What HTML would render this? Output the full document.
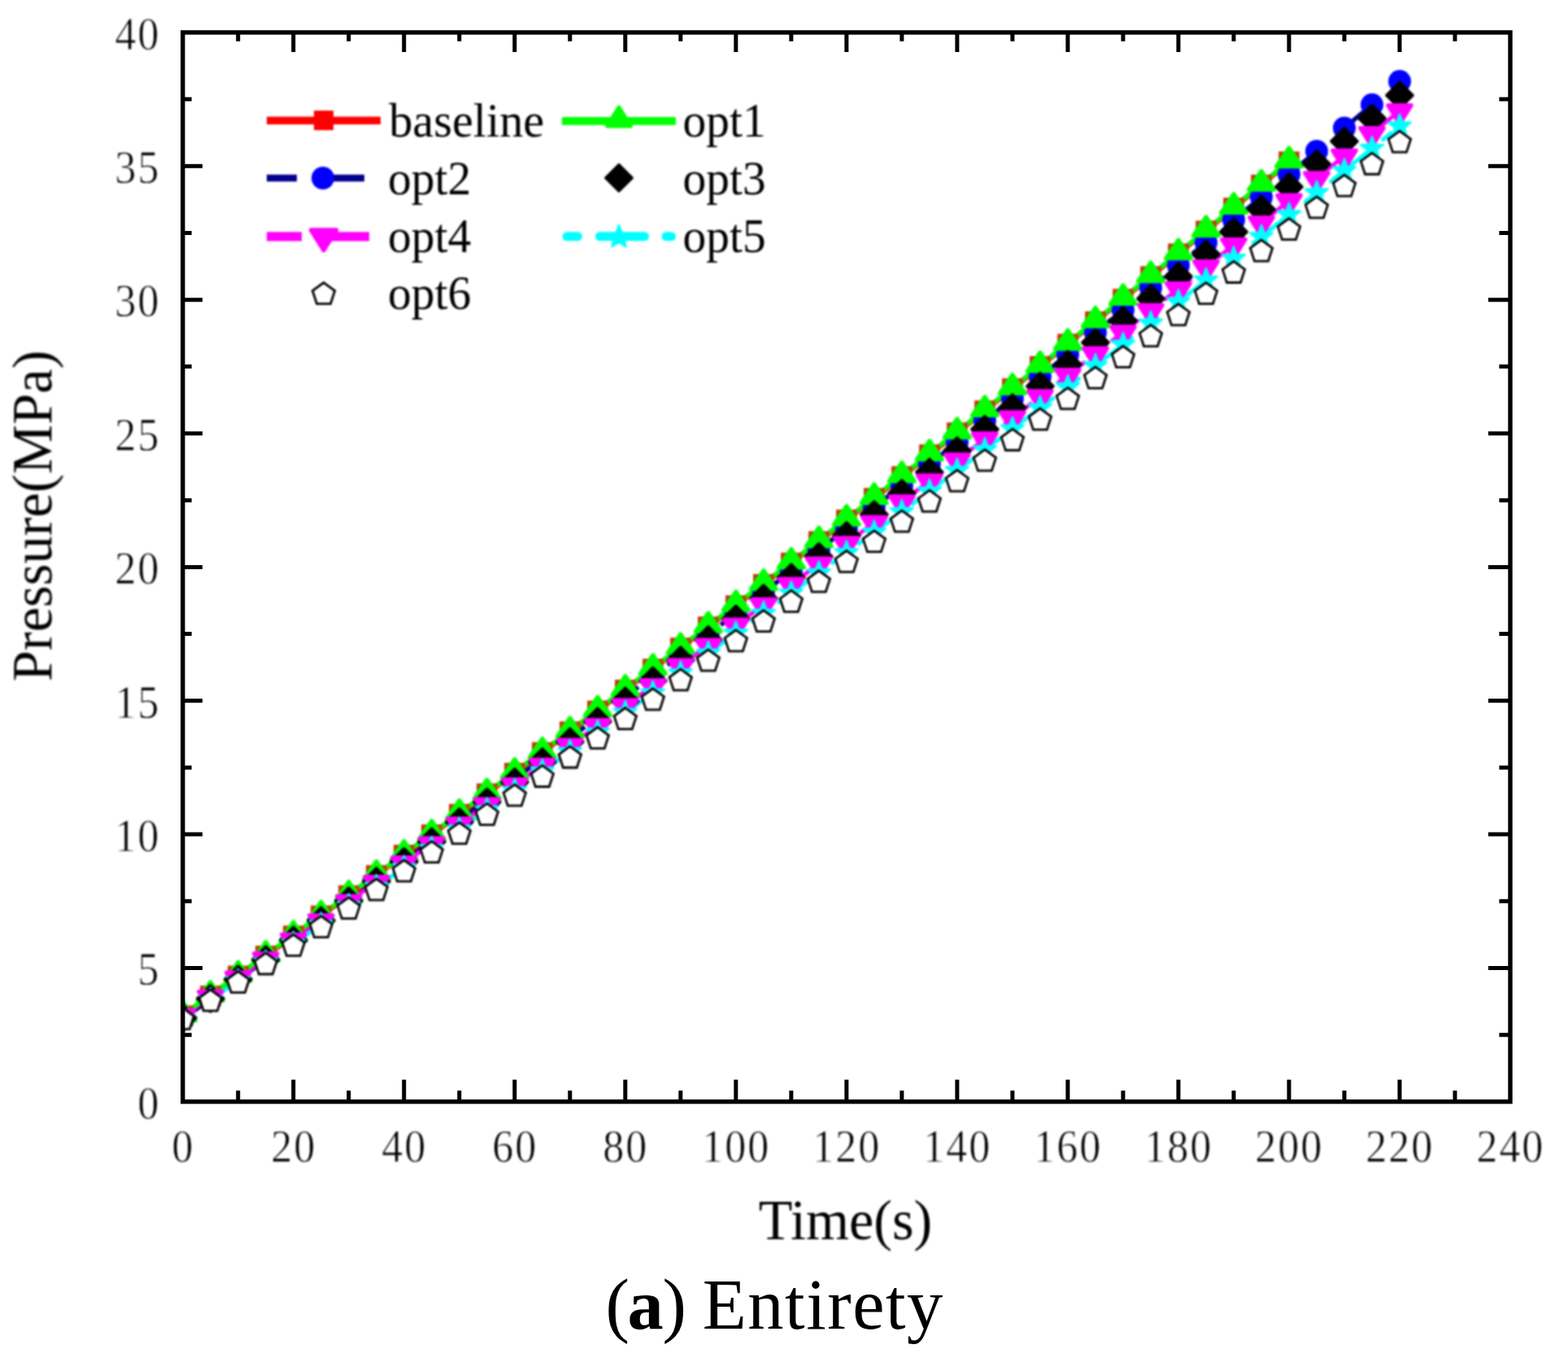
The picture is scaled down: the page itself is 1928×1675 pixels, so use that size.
<!DOCTYPE html>
<html lang="en"><head><meta charset="utf-8"><title>Pressure vs Time - (a) Entirety</title>
<style>
html,body{margin:0;padding:0;background:#ffffff;}
body{width:1928px;height:1675px;overflow:hidden;}
svg{display:block;}
.tick{font-family:"Liberation Serif","DejaVu Serif",serif;font-size:56px;fill:#000;stroke:#fff;stroke-width:0.8px;}
.leg{font-family:"Liberation Serif","DejaVu Serif",serif;font-size:59.5px;fill:#000;}
.ttl{font-family:"Liberation Serif","DejaVu Serif",serif;font-size:70.5px;fill:#000;}
.cap{font-family:"Liberation Serif","DejaVu Serif",serif;font-size:88.5px;fill:#000;}
</style></head><body>
<svg width="1928" height="1675" viewBox="0 0 1928 1675" role="img" aria-label="Pressure versus time chart">
<rect x="0" y="0" width="1928" height="1675" fill="#ffffff"/>
<defs><filter id="soft" x="0" y="0" width="1928" height="1675" filterUnits="userSpaceOnUse" color-interpolation-filters="sRGB"><feGaussianBlur stdDeviation="0.9"/></filter><filter id="soft2" x="0" y="0" width="1928" height="1675" filterUnits="userSpaceOnUse" color-interpolation-filters="sRGB"><feGaussianBlur stdDeviation="0.5"/></filter><clipPath id="plotclip"><rect x="224.75" y="39.9" width="1632.25" height="1314.95"/></clipPath></defs>
<g id="chart">
<g id="data-wrap" filter="url(#soft)">
<g id="data" clip-path="url(#plotclip)">
<g id="lines" fill="none">
<polyline id="line-opt2" points="224.75,1252.99 258.76,1228.83 292.76,1204.6 326.77,1180.29 360.77,1155.91 394.78,1131.46 428.78,1106.93 462.79,1082.31 496.79,1057.62 530.8,1032.84 564.8,1007.98 598.81,983.03 632.81,957.99 666.82,932.87 700.82,907.65 734.83,882.34 768.83,856.93 802.84,831.43 836.84,805.82 870.85,780.12 904.85,754.32 938.86,728.41 972.86,702.4 1006.87,676.28 1040.88,650.05 1074.88,623.71 1108.89,597.26 1142.89,570.7 1176.9,544.02 1210.9,517.22 1244.91,490.31 1278.91,463.27 1312.92,436.11 1346.92,408.83 1380.93,381.42 1414.93,353.89 1448.94,326.23 1482.94,298.43 1516.95,270.51 1550.95,242.45 1584.96,214.25 1618.96,185.92 1652.97,157.44 1686.97,128.83 1720.98,100.07" stroke="#00008c" stroke-width="5.5" stroke-dasharray="37 45" stroke-linecap="butt"/>
<polyline id="line-baseline" points="224.75,1249.37 258.76,1224.92 292.76,1200.41 326.77,1175.81 360.77,1151.15 394.78,1126.4 428.78,1101.58 462.79,1076.68 496.79,1051.7 530.8,1026.64 564.8,1001.49 598.81,976.25 632.81,950.93 666.82,925.51 700.82,900 734.83,874.4 768.83,848.71 802.84,822.92 836.84,797.03 870.85,771.04 904.85,744.95 938.86,718.75 972.86,692.45 1006.87,666.05 1040.88,639.53 1074.88,612.9 1108.89,586.17 1142.89,559.31 1176.9,532.35 1210.9,505.26 1244.91,478.06 1278.91,450.74 1312.92,423.29 1346.92,395.72 1380.93,368.03 1414.93,340.21 1448.94,312.25 1482.94,284.17 1516.95,255.96 1550.95,227.61 1584.96,199.13" stroke="#ff0000" stroke-width="6" stroke-linecap="butt"/>
<polyline id="line-opt4" points="224.75,1249.37 258.76,1226.12 292.76,1202.79 326.77,1179.39 360.77,1155.91 394.78,1132.36 428.78,1108.73 462.79,1085.02 496.79,1061.23 530.8,1037.36 564.8,1013.4 598.81,989.36 632.81,965.23 666.82,941 700.82,916.69 734.83,892.28 768.83,867.78 802.84,843.18 836.84,818.48 870.85,793.68 904.85,768.78 938.86,743.78 972.86,718.67 1006.87,693.45 1040.88,668.13 1074.88,642.7 1108.89,617.15 1142.89,591.49 1176.9,565.71 1210.9,539.82 1244.91,513.81 1278.91,487.68 1312.92,461.43 1346.92,435.05 1380.93,408.54 1414.93,381.91 1448.94,355.15 1482.94,328.26 1516.95,301.24 1550.95,274.09 1584.96,246.79 1618.96,219.36 1652.97,191.8 1686.97,164.09 1720.98,136.23" stroke="#ff00ff" stroke-width="5" stroke-dasharray="43 40" stroke-linecap="butt"/>
<polyline id="line-opt5" points="224.75,1252.33 258.76,1229.44 292.76,1206.47 326.77,1183.43 360.77,1160.32 394.78,1137.13 428.78,1113.86 462.79,1090.51 496.79,1067.09 530.8,1043.57 564.8,1019.98 598.81,996.29 632.81,972.52 666.82,948.66 700.82,924.71 734.83,900.66 768.83,876.52 802.84,852.28 836.84,827.95 870.85,803.51 904.85,778.97 938.86,754.33 972.86,729.58 1006.87,704.73 1040.88,679.77 1074.88,654.69 1108.89,629.51 1142.89,604.21 1176.9,578.8 1210.9,553.27 1244.91,527.62 1278.91,501.85 1312.92,475.96 1346.92,449.94 1380.93,423.8 1414.93,397.53 1448.94,371.13 1482.94,344.6 1516.95,317.94 1550.95,291.15 1584.96,264.22 1618.96,237.15 1652.97,209.94 1686.97,182.59 1720.98,155.1" stroke="#00ffff" stroke-width="5" stroke-dasharray="12 28 54 28" stroke-linecap="round"/>
<polyline id="line-opt1" points="224.75,1248.06 258.76,1223.61 292.76,1199.09 326.77,1174.5 360.77,1149.83 394.78,1125.09 428.78,1100.27 462.79,1075.37 496.79,1050.39 530.8,1025.32 564.8,1000.17 598.81,974.93 632.81,949.61 666.82,924.2 700.82,898.69 734.83,873.09 768.83,847.4 802.84,821.6 836.84,795.71 870.85,769.72 904.85,743.63 938.86,717.44 972.86,691.14 1006.87,664.73 1040.88,638.22 1074.88,611.59 1108.89,584.85 1142.89,558 1176.9,531.03 1210.9,503.95 1244.91,476.75 1278.91,449.42 1312.92,421.98 1346.92,394.41 1380.93,366.71 1414.93,338.89 1448.94,310.94 1482.94,282.86 1516.95,254.64 1550.95,226.3 1584.96,197.81" stroke="#00ff00" stroke-width="5.6" stroke-linecap="butt"/>
</g>
<g id="pts-baseline">
<rect x="211.95" y="1236.57" width="25.6" height="25.6" fill="#c23a08"/>
<rect x="245.96" y="1212.12" width="25.6" height="25.6" fill="#c23a08"/>
<rect x="279.96" y="1187.61" width="25.6" height="25.6" fill="#c23a08"/>
<rect x="313.97" y="1163.01" width="25.6" height="25.6" fill="#c23a08"/>
<rect x="347.97" y="1138.35" width="25.6" height="25.6" fill="#c23a08"/>
<rect x="381.98" y="1113.6" width="25.6" height="25.6" fill="#c23a08"/>
<rect x="415.98" y="1088.78" width="25.6" height="25.6" fill="#c23a08"/>
<rect x="449.99" y="1063.88" width="25.6" height="25.6" fill="#c23a08"/>
<rect x="483.99" y="1038.9" width="25.6" height="25.6" fill="#c23a08"/>
<rect x="518" y="1013.84" width="25.6" height="25.6" fill="#c23a08"/>
<rect x="552" y="988.69" width="25.6" height="25.6" fill="#c23a08"/>
<rect x="586.01" y="963.45" width="25.6" height="25.6" fill="#c23a08"/>
<rect x="620.01" y="938.13" width="25.6" height="25.6" fill="#c23a08"/>
<rect x="654.02" y="912.71" width="25.6" height="25.6" fill="#c23a08"/>
<rect x="688.02" y="887.2" width="25.6" height="25.6" fill="#c23a08"/>
<rect x="722.03" y="861.6" width="25.6" height="25.6" fill="#c23a08"/>
<rect x="756.03" y="835.91" width="25.6" height="25.6" fill="#c23a08"/>
<rect x="790.04" y="810.12" width="25.6" height="25.6" fill="#c23a08"/>
<rect x="824.04" y="784.23" width="25.6" height="25.6" fill="#c23a08"/>
<rect x="858.05" y="758.24" width="25.6" height="25.6" fill="#c23a08"/>
<rect x="892.05" y="732.15" width="25.6" height="25.6" fill="#c23a08"/>
<rect x="926.06" y="705.95" width="25.6" height="25.6" fill="#c23a08"/>
<rect x="960.06" y="679.65" width="25.6" height="25.6" fill="#c23a08"/>
<rect x="994.07" y="653.25" width="25.6" height="25.6" fill="#c23a08"/>
<rect x="1028.08" y="626.73" width="25.6" height="25.6" fill="#c23a08"/>
<rect x="1062.08" y="600.1" width="25.6" height="25.6" fill="#c23a08"/>
<rect x="1096.09" y="573.37" width="25.6" height="25.6" fill="#c23a08"/>
<rect x="1130.09" y="546.51" width="25.6" height="25.6" fill="#c23a08"/>
<rect x="1164.1" y="519.55" width="25.6" height="25.6" fill="#c23a08"/>
<rect x="1198.1" y="492.46" width="25.6" height="25.6" fill="#c23a08"/>
<rect x="1232.11" y="465.26" width="25.6" height="25.6" fill="#c23a08"/>
<rect x="1266.11" y="437.94" width="25.6" height="25.6" fill="#c23a08"/>
<rect x="1300.12" y="410.49" width="25.6" height="25.6" fill="#c23a08"/>
<rect x="1334.12" y="382.92" width="25.6" height="25.6" fill="#c23a08"/>
<rect x="1368.13" y="355.23" width="25.6" height="25.6" fill="#c23a08"/>
<rect x="1402.13" y="327.41" width="25.6" height="25.6" fill="#c23a08"/>
<rect x="1436.14" y="299.45" width="25.6" height="25.6" fill="#c23a08"/>
<rect x="1470.14" y="271.37" width="25.6" height="25.6" fill="#c23a08"/>
<rect x="1504.15" y="243.16" width="25.6" height="25.6" fill="#c23a08"/>
<rect x="1538.15" y="214.81" width="25.6" height="25.6" fill="#c23a08"/>
<rect x="1572.16" y="186.33" width="25.6" height="25.6" fill="#c23a08"/>
</g>
<g id="pts-opt2">
<circle cx="224.75" cy="1252.99" r="14" fill="#0000ff"/>
<circle cx="258.76" cy="1228.83" r="14" fill="#0000ff"/>
<circle cx="292.76" cy="1204.6" r="14" fill="#0000ff"/>
<circle cx="326.77" cy="1180.29" r="14" fill="#0000ff"/>
<circle cx="360.77" cy="1155.91" r="14" fill="#0000ff"/>
<circle cx="394.78" cy="1131.46" r="14" fill="#0000ff"/>
<circle cx="428.78" cy="1106.93" r="14" fill="#0000ff"/>
<circle cx="462.79" cy="1082.31" r="14" fill="#0000ff"/>
<circle cx="496.79" cy="1057.62" r="14" fill="#0000ff"/>
<circle cx="530.8" cy="1032.84" r="14" fill="#0000ff"/>
<circle cx="564.8" cy="1007.98" r="14" fill="#0000ff"/>
<circle cx="598.81" cy="983.03" r="14" fill="#0000ff"/>
<circle cx="632.81" cy="957.99" r="14" fill="#0000ff"/>
<circle cx="666.82" cy="932.87" r="14" fill="#0000ff"/>
<circle cx="700.82" cy="907.65" r="14" fill="#0000ff"/>
<circle cx="734.83" cy="882.34" r="14" fill="#0000ff"/>
<circle cx="768.83" cy="856.93" r="14" fill="#0000ff"/>
<circle cx="802.84" cy="831.43" r="14" fill="#0000ff"/>
<circle cx="836.84" cy="805.82" r="14" fill="#0000ff"/>
<circle cx="870.85" cy="780.12" r="14" fill="#0000ff"/>
<circle cx="904.85" cy="754.32" r="14" fill="#0000ff"/>
<circle cx="938.86" cy="728.41" r="14" fill="#0000ff"/>
<circle cx="972.86" cy="702.4" r="14" fill="#0000ff"/>
<circle cx="1006.87" cy="676.28" r="14" fill="#0000ff"/>
<circle cx="1040.88" cy="650.05" r="14" fill="#0000ff"/>
<circle cx="1074.88" cy="623.71" r="14" fill="#0000ff"/>
<circle cx="1108.89" cy="597.26" r="14" fill="#0000ff"/>
<circle cx="1142.89" cy="570.7" r="14" fill="#0000ff"/>
<circle cx="1176.9" cy="544.02" r="14" fill="#0000ff"/>
<circle cx="1210.9" cy="517.22" r="14" fill="#0000ff"/>
<circle cx="1244.91" cy="490.31" r="14" fill="#0000ff"/>
<circle cx="1278.91" cy="463.27" r="14" fill="#0000ff"/>
<circle cx="1312.92" cy="436.11" r="14" fill="#0000ff"/>
<circle cx="1346.92" cy="408.83" r="14" fill="#0000ff"/>
<circle cx="1380.93" cy="381.42" r="14" fill="#0000ff"/>
<circle cx="1414.93" cy="353.89" r="14" fill="#0000ff"/>
<circle cx="1448.94" cy="326.23" r="14" fill="#0000ff"/>
<circle cx="1482.94" cy="298.43" r="14" fill="#0000ff"/>
<circle cx="1516.95" cy="270.51" r="14" fill="#0000ff"/>
<circle cx="1550.95" cy="242.45" r="14" fill="#0000ff"/>
<circle cx="1584.96" cy="214.25" r="14" fill="#0000ff"/>
<circle cx="1618.96" cy="185.92" r="14" fill="#0000ff"/>
<circle cx="1652.97" cy="157.44" r="14" fill="#0000ff"/>
<circle cx="1686.97" cy="128.83" r="14" fill="#0000ff"/>
<circle cx="1720.98" cy="100.07" r="14" fill="#0000ff"/>
</g>
<g id="pts-opt1">
<polygon points="224.75,1232.16 209.25,1254.96 240.25,1254.96" fill="#00ff00" stroke="#00ff00" stroke-width="5" stroke-linejoin="round"/>
<polygon points="258.76,1207.71 243.26,1230.51 274.26,1230.51" fill="#00ff00" stroke="#00ff00" stroke-width="5" stroke-linejoin="round"/>
<polygon points="292.76,1183.19 277.26,1205.99 308.26,1205.99" fill="#00ff00" stroke="#00ff00" stroke-width="5" stroke-linejoin="round"/>
<polygon points="326.77,1158.6 311.27,1181.4 342.27,1181.4" fill="#00ff00" stroke="#00ff00" stroke-width="5" stroke-linejoin="round"/>
<polygon points="360.77,1133.93 345.27,1156.73 376.27,1156.73" fill="#00ff00" stroke="#00ff00" stroke-width="5" stroke-linejoin="round"/>
<polygon points="394.78,1109.19 379.28,1131.99 410.28,1131.99" fill="#00ff00" stroke="#00ff00" stroke-width="5" stroke-linejoin="round"/>
<polygon points="428.78,1084.37 413.28,1107.17 444.28,1107.17" fill="#00ff00" stroke="#00ff00" stroke-width="5" stroke-linejoin="round"/>
<polygon points="462.79,1059.47 447.29,1082.27 478.29,1082.27" fill="#00ff00" stroke="#00ff00" stroke-width="5" stroke-linejoin="round"/>
<polygon points="496.79,1034.49 481.29,1057.29 512.29,1057.29" fill="#00ff00" stroke="#00ff00" stroke-width="5" stroke-linejoin="round"/>
<polygon points="530.8,1009.42 515.3,1032.22 546.3,1032.22" fill="#00ff00" stroke="#00ff00" stroke-width="5" stroke-linejoin="round"/>
<polygon points="564.8,984.27 549.3,1007.07 580.3,1007.07" fill="#00ff00" stroke="#00ff00" stroke-width="5" stroke-linejoin="round"/>
<polygon points="598.81,959.03 583.31,981.83 614.31,981.83" fill="#00ff00" stroke="#00ff00" stroke-width="5" stroke-linejoin="round"/>
<polygon points="632.81,933.71 617.31,956.51 648.31,956.51" fill="#00ff00" stroke="#00ff00" stroke-width="5" stroke-linejoin="round"/>
<polygon points="666.82,908.3 651.32,931.1 682.32,931.1" fill="#00ff00" stroke="#00ff00" stroke-width="5" stroke-linejoin="round"/>
<polygon points="700.82,882.79 685.32,905.59 716.32,905.59" fill="#00ff00" stroke="#00ff00" stroke-width="5" stroke-linejoin="round"/>
<polygon points="734.83,857.19 719.33,879.99 750.33,879.99" fill="#00ff00" stroke="#00ff00" stroke-width="5" stroke-linejoin="round"/>
<polygon points="768.83,831.5 753.33,854.3 784.33,854.3" fill="#00ff00" stroke="#00ff00" stroke-width="5" stroke-linejoin="round"/>
<polygon points="802.84,805.7 787.34,828.5 818.34,828.5" fill="#00ff00" stroke="#00ff00" stroke-width="5" stroke-linejoin="round"/>
<polygon points="836.84,779.81 821.34,802.61 852.34,802.61" fill="#00ff00" stroke="#00ff00" stroke-width="5" stroke-linejoin="round"/>
<polygon points="870.85,753.82 855.35,776.62 886.35,776.62" fill="#00ff00" stroke="#00ff00" stroke-width="5" stroke-linejoin="round"/>
<polygon points="904.85,727.73 889.35,750.53 920.35,750.53" fill="#00ff00" stroke="#00ff00" stroke-width="5" stroke-linejoin="round"/>
<polygon points="938.86,701.54 923.36,724.34 954.36,724.34" fill="#00ff00" stroke="#00ff00" stroke-width="5" stroke-linejoin="round"/>
<polygon points="972.86,675.24 957.36,698.04 988.36,698.04" fill="#00ff00" stroke="#00ff00" stroke-width="5" stroke-linejoin="round"/>
<polygon points="1006.87,648.83 991.37,671.63 1022.37,671.63" fill="#00ff00" stroke="#00ff00" stroke-width="5" stroke-linejoin="round"/>
<polygon points="1040.88,622.32 1025.38,645.12 1056.38,645.12" fill="#00ff00" stroke="#00ff00" stroke-width="5" stroke-linejoin="round"/>
<polygon points="1074.88,595.69 1059.38,618.49 1090.38,618.49" fill="#00ff00" stroke="#00ff00" stroke-width="5" stroke-linejoin="round"/>
<polygon points="1108.89,568.95 1093.39,591.75 1124.39,591.75" fill="#00ff00" stroke="#00ff00" stroke-width="5" stroke-linejoin="round"/>
<polygon points="1142.89,542.1 1127.39,564.9 1158.39,564.9" fill="#00ff00" stroke="#00ff00" stroke-width="5" stroke-linejoin="round"/>
<polygon points="1176.9,515.13 1161.4,537.93 1192.4,537.93" fill="#00ff00" stroke="#00ff00" stroke-width="5" stroke-linejoin="round"/>
<polygon points="1210.9,488.05 1195.4,510.85 1226.4,510.85" fill="#00ff00" stroke="#00ff00" stroke-width="5" stroke-linejoin="round"/>
<polygon points="1244.91,460.85 1229.41,483.65 1260.41,483.65" fill="#00ff00" stroke="#00ff00" stroke-width="5" stroke-linejoin="round"/>
<polygon points="1278.91,433.52 1263.41,456.32 1294.41,456.32" fill="#00ff00" stroke="#00ff00" stroke-width="5" stroke-linejoin="round"/>
<polygon points="1312.92,406.08 1297.42,428.88 1328.42,428.88" fill="#00ff00" stroke="#00ff00" stroke-width="5" stroke-linejoin="round"/>
<polygon points="1346.92,378.51 1331.42,401.31 1362.42,401.31" fill="#00ff00" stroke="#00ff00" stroke-width="5" stroke-linejoin="round"/>
<polygon points="1380.93,350.81 1365.43,373.61 1396.43,373.61" fill="#00ff00" stroke="#00ff00" stroke-width="5" stroke-linejoin="round"/>
<polygon points="1414.93,322.99 1399.43,345.79 1430.43,345.79" fill="#00ff00" stroke="#00ff00" stroke-width="5" stroke-linejoin="round"/>
<polygon points="1448.94,295.04 1433.44,317.84 1464.44,317.84" fill="#00ff00" stroke="#00ff00" stroke-width="5" stroke-linejoin="round"/>
<polygon points="1482.94,266.96 1467.44,289.76 1498.44,289.76" fill="#00ff00" stroke="#00ff00" stroke-width="5" stroke-linejoin="round"/>
<polygon points="1516.95,238.74 1501.45,261.54 1532.45,261.54" fill="#00ff00" stroke="#00ff00" stroke-width="5" stroke-linejoin="round"/>
<polygon points="1550.95,210.4 1535.45,233.2 1566.45,233.2" fill="#00ff00" stroke="#00ff00" stroke-width="5" stroke-linejoin="round"/>
<polygon points="1584.96,181.91 1569.46,204.71 1600.46,204.71" fill="#00ff00" stroke="#00ff00" stroke-width="5" stroke-linejoin="round"/>
</g>
<g id="pts-opt3">
<polygon points="224.75,1235.63 240.79,1251.67 224.75,1267.71 208.71,1251.67" fill="#000000" stroke="#000000" stroke-width="3.6" stroke-linejoin="round"/>
<polygon points="258.76,1211.89 274.8,1227.93 258.76,1243.97 242.72,1227.93" fill="#000000" stroke="#000000" stroke-width="3.6" stroke-linejoin="round"/>
<polygon points="292.76,1188.08 308.8,1204.12 292.76,1220.16 276.72,1204.12" fill="#000000" stroke="#000000" stroke-width="3.6" stroke-linejoin="round"/>
<polygon points="326.77,1164.19 342.81,1180.23 326.77,1196.27 310.73,1180.23" fill="#000000" stroke="#000000" stroke-width="3.6" stroke-linejoin="round"/>
<polygon points="360.77,1140.24 376.81,1156.28 360.77,1172.32 344.73,1156.28" fill="#000000" stroke="#000000" stroke-width="3.6" stroke-linejoin="round"/>
<polygon points="394.78,1116.2 410.82,1132.24 394.78,1148.28 378.74,1132.24" fill="#000000" stroke="#000000" stroke-width="3.6" stroke-linejoin="round"/>
<polygon points="428.78,1092.09 444.82,1108.13 428.78,1124.17 412.74,1108.13" fill="#000000" stroke="#000000" stroke-width="3.6" stroke-linejoin="round"/>
<polygon points="462.79,1067.89 478.83,1083.93 462.79,1099.97 446.75,1083.93" fill="#000000" stroke="#000000" stroke-width="3.6" stroke-linejoin="round"/>
<polygon points="496.79,1043.62 512.83,1059.66 496.79,1075.7 480.75,1059.66" fill="#000000" stroke="#000000" stroke-width="3.6" stroke-linejoin="round"/>
<polygon points="530.8,1019.26 546.84,1035.3 530.8,1051.34 514.76,1035.3" fill="#000000" stroke="#000000" stroke-width="3.6" stroke-linejoin="round"/>
<polygon points="564.8,994.82 580.84,1010.86 564.8,1026.9 548.76,1010.86" fill="#000000" stroke="#000000" stroke-width="3.6" stroke-linejoin="round"/>
<polygon points="598.81,970.29 614.85,986.33 598.81,1002.37 582.77,986.33" fill="#000000" stroke="#000000" stroke-width="3.6" stroke-linejoin="round"/>
<polygon points="632.81,945.67 648.85,961.71 632.81,977.75 616.77,961.71" fill="#000000" stroke="#000000" stroke-width="3.6" stroke-linejoin="round"/>
<polygon points="666.82,920.96 682.86,937 666.82,953.04 650.78,937" fill="#000000" stroke="#000000" stroke-width="3.6" stroke-linejoin="round"/>
<polygon points="700.82,896.16 716.86,912.2 700.82,928.24 684.78,912.2" fill="#000000" stroke="#000000" stroke-width="3.6" stroke-linejoin="round"/>
<polygon points="734.83,871.27 750.87,887.31 734.83,903.35 718.79,887.31" fill="#000000" stroke="#000000" stroke-width="3.6" stroke-linejoin="round"/>
<polygon points="768.83,846.28 784.87,862.32 768.83,878.36 752.79,862.32" fill="#000000" stroke="#000000" stroke-width="3.6" stroke-linejoin="round"/>
<polygon points="802.84,821.2 818.88,837.24 802.84,853.28 786.8,837.24" fill="#000000" stroke="#000000" stroke-width="3.6" stroke-linejoin="round"/>
<polygon points="836.84,796.01 852.88,812.05 836.84,828.09 820.8,812.05" fill="#000000" stroke="#000000" stroke-width="3.6" stroke-linejoin="round"/>
<polygon points="870.85,770.73 886.89,786.77 870.85,802.81 854.81,786.77" fill="#000000" stroke="#000000" stroke-width="3.6" stroke-linejoin="round"/>
<polygon points="904.85,745.34 920.89,761.38 904.85,777.42 888.81,761.38" fill="#000000" stroke="#000000" stroke-width="3.6" stroke-linejoin="round"/>
<polygon points="938.86,719.86 954.9,735.9 938.86,751.94 922.82,735.9" fill="#000000" stroke="#000000" stroke-width="3.6" stroke-linejoin="round"/>
<polygon points="972.86,694.26 988.9,710.3 972.86,726.34 956.82,710.3" fill="#000000" stroke="#000000" stroke-width="3.6" stroke-linejoin="round"/>
<polygon points="1006.87,668.56 1022.91,684.6 1006.87,700.64 990.83,684.6" fill="#000000" stroke="#000000" stroke-width="3.6" stroke-linejoin="round"/>
<polygon points="1040.88,642.75 1056.91,658.79 1040.88,674.83 1024.84,658.79" fill="#000000" stroke="#000000" stroke-width="3.6" stroke-linejoin="round"/>
<polygon points="1074.88,616.83 1090.92,632.87 1074.88,648.91 1058.84,632.87" fill="#000000" stroke="#000000" stroke-width="3.6" stroke-linejoin="round"/>
<polygon points="1108.89,590.8 1124.93,606.84 1108.89,622.88 1092.85,606.84" fill="#000000" stroke="#000000" stroke-width="3.6" stroke-linejoin="round"/>
<polygon points="1142.89,564.66 1158.93,580.7 1142.89,596.74 1126.85,580.7" fill="#000000" stroke="#000000" stroke-width="3.6" stroke-linejoin="round"/>
<polygon points="1176.9,538.4 1192.94,554.44 1176.9,570.48 1160.86,554.44" fill="#000000" stroke="#000000" stroke-width="3.6" stroke-linejoin="round"/>
<polygon points="1210.9,512.02 1226.94,528.06 1210.9,544.1 1194.86,528.06" fill="#000000" stroke="#000000" stroke-width="3.6" stroke-linejoin="round"/>
<polygon points="1244.91,485.53 1260.95,501.57 1244.91,517.61 1228.87,501.57" fill="#000000" stroke="#000000" stroke-width="3.6" stroke-linejoin="round"/>
<polygon points="1278.91,458.91 1294.95,474.95 1278.91,490.99 1262.87,474.95" fill="#000000" stroke="#000000" stroke-width="3.6" stroke-linejoin="round"/>
<polygon points="1312.92,432.17 1328.96,448.21 1312.92,464.25 1296.88,448.21" fill="#000000" stroke="#000000" stroke-width="3.6" stroke-linejoin="round"/>
<polygon points="1346.92,405.31 1362.96,421.35 1346.92,437.39 1330.88,421.35" fill="#000000" stroke="#000000" stroke-width="3.6" stroke-linejoin="round"/>
<polygon points="1380.93,378.32 1396.97,394.36 1380.93,410.4 1364.89,394.36" fill="#000000" stroke="#000000" stroke-width="3.6" stroke-linejoin="round"/>
<polygon points="1414.93,351.2 1430.97,367.24 1414.93,383.28 1398.89,367.24" fill="#000000" stroke="#000000" stroke-width="3.6" stroke-linejoin="round"/>
<polygon points="1448.94,323.96 1464.98,340 1448.94,356.04 1432.9,340" fill="#000000" stroke="#000000" stroke-width="3.6" stroke-linejoin="round"/>
<polygon points="1482.94,296.59 1498.98,312.63 1482.94,328.67 1466.9,312.63" fill="#000000" stroke="#000000" stroke-width="3.6" stroke-linejoin="round"/>
<polygon points="1516.95,269.08 1532.99,285.12 1516.95,301.16 1500.91,285.12" fill="#000000" stroke="#000000" stroke-width="3.6" stroke-linejoin="round"/>
<polygon points="1550.95,241.44 1566.99,257.48 1550.95,273.52 1534.91,257.48" fill="#000000" stroke="#000000" stroke-width="3.6" stroke-linejoin="round"/>
<polygon points="1584.96,213.66 1601,229.7 1584.96,245.74 1568.92,229.7" fill="#000000" stroke="#000000" stroke-width="3.6" stroke-linejoin="round"/>
<polygon points="1618.96,185.75 1635,201.79 1618.96,217.83 1602.92,201.79" fill="#000000" stroke="#000000" stroke-width="3.6" stroke-linejoin="round"/>
<polygon points="1652.97,157.69 1669.01,173.73 1652.97,189.77 1636.93,173.73" fill="#000000" stroke="#000000" stroke-width="3.6" stroke-linejoin="round"/>
<polygon points="1686.97,129.5 1703.01,145.54 1686.97,161.58 1670.93,145.54" fill="#000000" stroke="#000000" stroke-width="3.6" stroke-linejoin="round"/>
<polygon points="1720.98,101.16 1737.02,117.2 1720.98,133.24 1704.94,117.2" fill="#000000" stroke="#000000" stroke-width="3.6" stroke-linejoin="round"/>
</g>
<g id="pts-opt4">
<polygon points="224.75,1265.47 210.45,1242.67 239.05,1242.67" fill="#ff00ff" stroke="#ff00ff" stroke-width="5" stroke-linejoin="round"/>
<polygon points="258.76,1242.22 244.46,1219.42 273.06,1219.42" fill="#ff00ff" stroke="#ff00ff" stroke-width="5" stroke-linejoin="round"/>
<polygon points="292.76,1218.89 278.46,1196.09 307.06,1196.09" fill="#ff00ff" stroke="#ff00ff" stroke-width="5" stroke-linejoin="round"/>
<polygon points="326.77,1195.49 312.47,1172.69 341.07,1172.69" fill="#ff00ff" stroke="#ff00ff" stroke-width="5" stroke-linejoin="round"/>
<polygon points="360.77,1172.01 346.47,1149.21 375.07,1149.21" fill="#ff00ff" stroke="#ff00ff" stroke-width="5" stroke-linejoin="round"/>
<polygon points="394.78,1148.46 380.48,1125.66 409.08,1125.66" fill="#ff00ff" stroke="#ff00ff" stroke-width="5" stroke-linejoin="round"/>
<polygon points="428.78,1124.83 414.48,1102.03 443.08,1102.03" fill="#ff00ff" stroke="#ff00ff" stroke-width="5" stroke-linejoin="round"/>
<polygon points="462.79,1101.12 448.49,1078.32 477.09,1078.32" fill="#ff00ff" stroke="#ff00ff" stroke-width="5" stroke-linejoin="round"/>
<polygon points="496.79,1077.33 482.49,1054.53 511.09,1054.53" fill="#ff00ff" stroke="#ff00ff" stroke-width="5" stroke-linejoin="round"/>
<polygon points="530.8,1053.46 516.5,1030.66 545.1,1030.66" fill="#ff00ff" stroke="#ff00ff" stroke-width="5" stroke-linejoin="round"/>
<polygon points="564.8,1029.5 550.5,1006.7 579.1,1006.7" fill="#ff00ff" stroke="#ff00ff" stroke-width="5" stroke-linejoin="round"/>
<polygon points="598.81,1005.46 584.51,982.66 613.11,982.66" fill="#ff00ff" stroke="#ff00ff" stroke-width="5" stroke-linejoin="round"/>
<polygon points="632.81,981.33 618.51,958.53 647.11,958.53" fill="#ff00ff" stroke="#ff00ff" stroke-width="5" stroke-linejoin="round"/>
<polygon points="666.82,957.1 652.52,934.3 681.12,934.3" fill="#ff00ff" stroke="#ff00ff" stroke-width="5" stroke-linejoin="round"/>
<polygon points="700.82,932.79 686.52,909.99 715.12,909.99" fill="#ff00ff" stroke="#ff00ff" stroke-width="5" stroke-linejoin="round"/>
<polygon points="734.83,908.38 720.53,885.58 749.13,885.58" fill="#ff00ff" stroke="#ff00ff" stroke-width="5" stroke-linejoin="round"/>
<polygon points="768.83,883.88 754.53,861.08 783.13,861.08" fill="#ff00ff" stroke="#ff00ff" stroke-width="5" stroke-linejoin="round"/>
<polygon points="802.84,859.28 788.54,836.48 817.14,836.48" fill="#ff00ff" stroke="#ff00ff" stroke-width="5" stroke-linejoin="round"/>
<polygon points="836.84,834.58 822.54,811.78 851.14,811.78" fill="#ff00ff" stroke="#ff00ff" stroke-width="5" stroke-linejoin="round"/>
<polygon points="870.85,809.78 856.55,786.98 885.15,786.98" fill="#ff00ff" stroke="#ff00ff" stroke-width="5" stroke-linejoin="round"/>
<polygon points="904.85,784.88 890.55,762.08 919.15,762.08" fill="#ff00ff" stroke="#ff00ff" stroke-width="5" stroke-linejoin="round"/>
<polygon points="938.86,759.88 924.56,737.08 953.16,737.08" fill="#ff00ff" stroke="#ff00ff" stroke-width="5" stroke-linejoin="round"/>
<polygon points="972.86,734.77 958.56,711.97 987.16,711.97" fill="#ff00ff" stroke="#ff00ff" stroke-width="5" stroke-linejoin="round"/>
<polygon points="1006.87,709.55 992.57,686.75 1021.17,686.75" fill="#ff00ff" stroke="#ff00ff" stroke-width="5" stroke-linejoin="round"/>
<polygon points="1040.88,684.23 1026.58,661.43 1055.17,661.43" fill="#ff00ff" stroke="#ff00ff" stroke-width="5" stroke-linejoin="round"/>
<polygon points="1074.88,658.8 1060.58,636 1089.18,636" fill="#ff00ff" stroke="#ff00ff" stroke-width="5" stroke-linejoin="round"/>
<polygon points="1108.89,633.25 1094.59,610.45 1123.19,610.45" fill="#ff00ff" stroke="#ff00ff" stroke-width="5" stroke-linejoin="round"/>
<polygon points="1142.89,607.59 1128.59,584.79 1157.19,584.79" fill="#ff00ff" stroke="#ff00ff" stroke-width="5" stroke-linejoin="round"/>
<polygon points="1176.9,581.81 1162.6,559.01 1191.2,559.01" fill="#ff00ff" stroke="#ff00ff" stroke-width="5" stroke-linejoin="round"/>
<polygon points="1210.9,555.92 1196.6,533.12 1225.2,533.12" fill="#ff00ff" stroke="#ff00ff" stroke-width="5" stroke-linejoin="round"/>
<polygon points="1244.91,529.91 1230.61,507.11 1259.21,507.11" fill="#ff00ff" stroke="#ff00ff" stroke-width="5" stroke-linejoin="round"/>
<polygon points="1278.91,503.78 1264.61,480.98 1293.21,480.98" fill="#ff00ff" stroke="#ff00ff" stroke-width="5" stroke-linejoin="round"/>
<polygon points="1312.92,477.53 1298.62,454.73 1327.22,454.73" fill="#ff00ff" stroke="#ff00ff" stroke-width="5" stroke-linejoin="round"/>
<polygon points="1346.92,451.15 1332.62,428.35 1361.22,428.35" fill="#ff00ff" stroke="#ff00ff" stroke-width="5" stroke-linejoin="round"/>
<polygon points="1380.93,424.64 1366.63,401.84 1395.23,401.84" fill="#ff00ff" stroke="#ff00ff" stroke-width="5" stroke-linejoin="round"/>
<polygon points="1414.93,398.01 1400.63,375.21 1429.23,375.21" fill="#ff00ff" stroke="#ff00ff" stroke-width="5" stroke-linejoin="round"/>
<polygon points="1448.94,371.25 1434.64,348.45 1463.24,348.45" fill="#ff00ff" stroke="#ff00ff" stroke-width="5" stroke-linejoin="round"/>
<polygon points="1482.94,344.36 1468.64,321.56 1497.24,321.56" fill="#ff00ff" stroke="#ff00ff" stroke-width="5" stroke-linejoin="round"/>
<polygon points="1516.95,317.34 1502.65,294.54 1531.25,294.54" fill="#ff00ff" stroke="#ff00ff" stroke-width="5" stroke-linejoin="round"/>
<polygon points="1550.95,290.19 1536.65,267.39 1565.25,267.39" fill="#ff00ff" stroke="#ff00ff" stroke-width="5" stroke-linejoin="round"/>
<polygon points="1584.96,262.89 1570.66,240.09 1599.26,240.09" fill="#ff00ff" stroke="#ff00ff" stroke-width="5" stroke-linejoin="round"/>
<polygon points="1618.96,235.46 1604.66,212.66 1633.26,212.66" fill="#ff00ff" stroke="#ff00ff" stroke-width="5" stroke-linejoin="round"/>
<polygon points="1652.97,207.9 1638.67,185.1 1667.27,185.1" fill="#ff00ff" stroke="#ff00ff" stroke-width="5" stroke-linejoin="round"/>
<polygon points="1686.97,180.19 1672.67,157.39 1701.27,157.39" fill="#ff00ff" stroke="#ff00ff" stroke-width="5" stroke-linejoin="round"/>
<polygon points="1720.98,152.33 1706.68,129.53 1735.28,129.53" fill="#ff00ff" stroke="#ff00ff" stroke-width="5" stroke-linejoin="round"/>
</g>
<g id="pts-opt5">
<polygon points="224.75,1237.43 228.51,1247.15 238.92,1247.73 230.84,1254.31 233.51,1264.38 224.75,1258.73 215.99,1264.38 218.66,1254.31 210.58,1247.73 220.99,1247.15" fill="#00ffff" stroke="#00ffff" stroke-width="2" stroke-linejoin="round"/>
<polygon points="258.76,1214.54 262.52,1224.26 272.93,1224.83 264.84,1231.41 267.51,1241.49 258.76,1235.84 250,1241.49 252.67,1231.41 244.58,1224.83 254.99,1224.26" fill="#00ffff" stroke="#00ffff" stroke-width="2" stroke-linejoin="round"/>
<polygon points="292.76,1191.57 296.52,1201.29 306.93,1201.87 298.85,1208.45 301.52,1218.52 292.76,1212.87 284,1218.52 286.67,1208.45 278.59,1201.87 289,1201.29" fill="#00ffff" stroke="#00ffff" stroke-width="2" stroke-linejoin="round"/>
<polygon points="326.77,1168.53 330.53,1178.25 340.94,1178.83 332.85,1185.41 335.52,1195.49 326.77,1189.83 318.01,1195.49 320.68,1185.41 312.59,1178.83 323,1178.25" fill="#00ffff" stroke="#00ffff" stroke-width="2" stroke-linejoin="round"/>
<polygon points="360.77,1145.42 364.53,1155.14 374.94,1155.71 366.86,1162.3 369.53,1172.37 360.77,1166.72 352.01,1172.37 354.68,1162.3 346.6,1155.71 357.01,1155.14" fill="#00ffff" stroke="#00ffff" stroke-width="2" stroke-linejoin="round"/>
<polygon points="394.78,1122.23 398.54,1131.95 408.95,1132.53 400.86,1139.11 403.53,1149.18 394.78,1143.53 386.02,1149.18 388.69,1139.11 380.61,1132.53 391.01,1131.95" fill="#00ffff" stroke="#00ffff" stroke-width="2" stroke-linejoin="round"/>
<polygon points="428.78,1098.96 432.54,1108.68 442.95,1109.26 434.87,1115.84 437.54,1125.92 428.78,1120.26 420.02,1125.92 422.69,1115.84 414.61,1109.26 425.02,1108.68" fill="#00ffff" stroke="#00ffff" stroke-width="2" stroke-linejoin="round"/>
<polygon points="462.79,1075.61 466.55,1085.34 476.96,1085.91 468.87,1092.49 471.54,1102.57 462.79,1096.91 454.03,1102.57 456.7,1092.49 448.62,1085.91 459.02,1085.34" fill="#00ffff" stroke="#00ffff" stroke-width="2" stroke-linejoin="round"/>
<polygon points="496.79,1052.19 500.55,1061.91 510.96,1062.48 502.88,1069.06 505.55,1079.14 496.79,1073.49 488.03,1079.14 490.7,1069.06 482.62,1062.48 493.03,1061.91" fill="#00ffff" stroke="#00ffff" stroke-width="2" stroke-linejoin="round"/>
<polygon points="530.8,1028.67 534.56,1038.4 544.97,1038.97 536.88,1045.55 539.55,1055.63 530.8,1049.97 522.04,1055.63 524.71,1045.55 516.63,1038.97 527.04,1038.4" fill="#00ffff" stroke="#00ffff" stroke-width="2" stroke-linejoin="round"/>
<polygon points="564.8,1005.08 568.56,1014.8 578.97,1015.37 570.89,1021.96 573.56,1032.03 564.8,1026.38 556.04,1032.03 558.72,1021.96 550.63,1015.37 561.04,1014.8" fill="#00ffff" stroke="#00ffff" stroke-width="2" stroke-linejoin="round"/>
<polygon points="598.81,981.39 602.57,991.12 612.98,991.69 604.89,998.27 607.57,1008.35 598.81,1002.69 590.05,1008.35 592.72,998.27 584.64,991.69 595.05,991.12" fill="#00ffff" stroke="#00ffff" stroke-width="2" stroke-linejoin="round"/>
<polygon points="632.81,957.62 636.57,967.35 646.98,967.92 638.9,974.5 641.57,984.58 632.81,978.92 624.05,984.58 626.73,974.5 618.64,967.92 629.05,967.35" fill="#00ffff" stroke="#00ffff" stroke-width="2" stroke-linejoin="round"/>
<polygon points="666.82,933.76 670.58,943.48 680.99,944.06 672.9,950.64 675.58,960.72 666.82,955.06 658.06,960.72 660.73,950.64 652.65,944.06 663.06,943.48" fill="#00ffff" stroke="#00ffff" stroke-width="2" stroke-linejoin="round"/>
<polygon points="700.82,909.81 704.58,919.53 714.99,920.1 706.91,926.69 709.58,936.76 700.82,931.11 692.06,936.76 694.74,926.69 686.65,920.1 697.06,919.53" fill="#00ffff" stroke="#00ffff" stroke-width="2" stroke-linejoin="round"/>
<polygon points="734.83,885.76 738.59,895.49 749,896.06 740.91,902.64 743.59,912.72 734.83,907.06 726.07,912.72 728.74,902.64 720.66,896.06 731.07,895.49" fill="#00ffff" stroke="#00ffff" stroke-width="2" stroke-linejoin="round"/>
<polygon points="768.83,861.62 772.6,871.34 783,871.92 774.92,878.5 777.59,888.58 768.83,882.92 760.08,888.58 762.75,878.5 754.66,871.92 765.07,871.34" fill="#00ffff" stroke="#00ffff" stroke-width="2" stroke-linejoin="round"/>
<polygon points="802.84,837.38 806.6,847.11 817.01,847.68 808.93,854.26 811.6,864.34 802.84,858.68 794.08,864.34 796.75,854.26 788.67,847.68 799.08,847.11" fill="#00ffff" stroke="#00ffff" stroke-width="2" stroke-linejoin="round"/>
<polygon points="836.84,813.05 840.61,822.77 851.01,823.34 842.93,829.92 845.6,840 836.84,834.35 828.09,840 830.76,829.92 822.67,823.34 833.08,822.77" fill="#00ffff" stroke="#00ffff" stroke-width="2" stroke-linejoin="round"/>
<polygon points="870.85,788.61 874.61,798.33 885.02,798.91 876.94,805.49 879.61,815.57 870.85,809.91 862.09,815.57 864.76,805.49 856.68,798.91 867.09,798.33" fill="#00ffff" stroke="#00ffff" stroke-width="2" stroke-linejoin="round"/>
<polygon points="904.85,764.07 908.62,773.79 919.02,774.37 910.94,780.95 913.61,791.03 904.85,785.37 896.1,791.03 898.77,780.95 890.68,774.37 901.09,773.79" fill="#00ffff" stroke="#00ffff" stroke-width="2" stroke-linejoin="round"/>
<polygon points="938.86,739.43 942.62,749.15 953.03,749.73 944.95,756.31 947.62,766.39 938.86,760.73 930.1,766.39 932.77,756.31 924.69,749.73 935.1,749.15" fill="#00ffff" stroke="#00ffff" stroke-width="2" stroke-linejoin="round"/>
<polygon points="972.86,714.68 976.63,724.41 987.04,724.98 978.95,731.56 981.62,741.64 972.86,735.98 964.11,741.64 966.78,731.56 958.69,724.98 969.1,724.41" fill="#00ffff" stroke="#00ffff" stroke-width="2" stroke-linejoin="round"/>
<polygon points="1006.87,689.83 1010.63,699.55 1021.04,700.13 1012.96,706.71 1015.63,716.78 1006.87,711.13 998.11,716.78 1000.78,706.71 992.7,700.13 1003.11,699.55" fill="#00ffff" stroke="#00ffff" stroke-width="2" stroke-linejoin="round"/>
<polygon points="1040.88,664.87 1044.64,674.59 1055.05,675.16 1046.96,681.75 1049.63,691.82 1040.88,686.17 1032.12,691.82 1034.79,681.75 1026.7,675.16 1037.11,674.59" fill="#00ffff" stroke="#00ffff" stroke-width="2" stroke-linejoin="round"/>
<polygon points="1074.88,639.79 1078.64,649.52 1089.05,650.09 1080.97,656.67 1083.64,666.75 1074.88,661.09 1066.12,666.75 1068.79,656.67 1060.71,650.09 1071.12,649.52" fill="#00ffff" stroke="#00ffff" stroke-width="2" stroke-linejoin="round"/>
<polygon points="1108.89,614.61 1112.65,624.33 1123.06,624.91 1114.97,631.49 1117.64,641.56 1108.89,635.91 1100.13,641.56 1102.8,631.49 1094.71,624.91 1105.12,624.33" fill="#00ffff" stroke="#00ffff" stroke-width="2" stroke-linejoin="round"/>
<polygon points="1142.89,589.31 1146.65,599.03 1157.06,599.61 1148.98,606.19 1151.65,616.27 1142.89,610.61 1134.13,616.27 1136.8,606.19 1128.72,599.61 1139.13,599.03" fill="#00ffff" stroke="#00ffff" stroke-width="2" stroke-linejoin="round"/>
<polygon points="1176.9,563.9 1180.66,573.62 1191.07,574.19 1182.98,580.78 1185.65,590.85 1176.9,585.2 1168.14,590.85 1170.81,580.78 1162.73,574.19 1173.13,573.62" fill="#00ffff" stroke="#00ffff" stroke-width="2" stroke-linejoin="round"/>
<polygon points="1210.9,538.37 1214.66,548.09 1225.07,548.66 1216.99,555.24 1219.66,565.32 1210.9,559.67 1202.14,565.32 1204.81,555.24 1196.73,548.66 1207.14,548.09" fill="#00ffff" stroke="#00ffff" stroke-width="2" stroke-linejoin="round"/>
<polygon points="1244.91,512.72 1248.67,522.44 1259.08,523.01 1250.99,529.6 1253.66,539.67 1244.91,534.02 1236.15,539.67 1238.82,529.6 1230.74,523.01 1241.14,522.44" fill="#00ffff" stroke="#00ffff" stroke-width="2" stroke-linejoin="round"/>
<polygon points="1278.91,486.95 1282.67,496.67 1293.08,497.24 1285,503.83 1287.67,513.9 1278.91,508.25 1270.15,513.9 1272.82,503.83 1264.74,497.24 1275.15,496.67" fill="#00ffff" stroke="#00ffff" stroke-width="2" stroke-linejoin="round"/>
<polygon points="1312.92,461.06 1316.68,470.78 1327.09,471.35 1319,477.93 1321.67,488.01 1312.92,482.36 1304.16,488.01 1306.83,477.93 1298.75,471.35 1309.15,470.78" fill="#00ffff" stroke="#00ffff" stroke-width="2" stroke-linejoin="round"/>
<polygon points="1346.92,435.04 1350.68,444.76 1361.09,445.34 1353.01,451.92 1355.68,461.99 1346.92,456.34 1338.16,461.99 1340.84,451.92 1332.75,445.34 1343.16,444.76" fill="#00ffff" stroke="#00ffff" stroke-width="2" stroke-linejoin="round"/>
<polygon points="1380.93,408.9 1384.69,418.62 1395.1,419.19 1387.01,425.78 1389.69,435.85 1380.93,430.2 1372.17,435.85 1374.84,425.78 1366.76,419.19 1377.17,418.62" fill="#00ffff" stroke="#00ffff" stroke-width="2" stroke-linejoin="round"/>
<polygon points="1414.93,382.63 1418.69,392.35 1429.1,392.92 1421.02,399.51 1423.69,409.58 1414.93,403.93 1406.17,409.58 1408.85,399.51 1400.76,392.92 1411.17,392.35" fill="#00ffff" stroke="#00ffff" stroke-width="2" stroke-linejoin="round"/>
<polygon points="1448.94,356.23 1452.7,365.95 1463.11,366.53 1455.02,373.11 1457.7,383.19 1448.94,377.53 1440.18,383.19 1442.85,373.11 1434.77,366.53 1445.18,365.95" fill="#00ffff" stroke="#00ffff" stroke-width="2" stroke-linejoin="round"/>
<polygon points="1482.94,329.7 1486.7,339.43 1497.11,340 1489.03,346.58 1491.7,356.66 1482.94,351 1474.18,356.66 1476.86,346.58 1468.77,340 1479.18,339.43" fill="#00ffff" stroke="#00ffff" stroke-width="2" stroke-linejoin="round"/>
<polygon points="1516.95,303.04 1520.71,312.76 1531.12,313.34 1523.03,319.92 1525.71,330 1516.95,324.34 1508.19,330 1510.86,319.92 1502.78,313.34 1513.19,312.76" fill="#00ffff" stroke="#00ffff" stroke-width="2" stroke-linejoin="round"/>
<polygon points="1550.95,276.25 1554.71,285.97 1565.12,286.54 1557.04,293.13 1559.71,303.2 1550.95,297.55 1542.2,303.2 1544.87,293.13 1536.78,286.54 1547.19,285.97" fill="#00ffff" stroke="#00ffff" stroke-width="2" stroke-linejoin="round"/>
<polygon points="1584.96,249.32 1588.72,259.04 1599.13,259.61 1591.05,266.19 1593.72,276.27 1584.96,270.62 1576.2,276.27 1578.87,266.19 1570.79,259.61 1581.2,259.04" fill="#00ffff" stroke="#00ffff" stroke-width="2" stroke-linejoin="round"/>
<polygon points="1618.96,222.25 1622.73,231.97 1633.13,232.54 1625.05,239.13 1627.72,249.2 1618.96,243.55 1610.21,249.2 1612.88,239.13 1604.79,232.54 1615.2,231.97" fill="#00ffff" stroke="#00ffff" stroke-width="2" stroke-linejoin="round"/>
<polygon points="1652.97,195.04 1656.73,204.76 1667.14,205.34 1659.06,211.92 1661.73,222 1652.97,216.34 1644.21,222 1646.88,211.92 1638.8,205.34 1649.21,204.76" fill="#00ffff" stroke="#00ffff" stroke-width="2" stroke-linejoin="round"/>
<polygon points="1686.97,167.69 1690.74,177.42 1701.14,177.99 1693.06,184.57 1695.73,194.65 1686.97,188.99 1678.22,194.65 1680.89,184.57 1672.8,177.99 1683.21,177.42" fill="#00ffff" stroke="#00ffff" stroke-width="2" stroke-linejoin="round"/>
<polygon points="1720.98,140.2 1724.74,149.93 1735.15,150.5 1727.07,157.08 1729.74,167.16 1720.98,161.5 1712.22,167.16 1714.89,157.08 1706.81,150.5 1717.22,149.93" fill="#00ffff" stroke="#00ffff" stroke-width="2" stroke-linejoin="round"/>
</g>
<g id="pts-opt6">
<polygon points="224.75,1239.57 238.45,1249.52 233.21,1265.62 216.29,1265.62 211.05,1249.52" fill="#ffffff" stroke="#000000" stroke-width="2.8" stroke-linejoin="miter"/>
<polygon points="258.76,1217.11 272.45,1227.06 267.22,1243.16 250.29,1243.16 245.06,1227.06" fill="#ffffff" stroke="#000000" stroke-width="2.8" stroke-linejoin="miter"/>
<polygon points="292.76,1194.57 306.46,1204.52 301.22,1220.62 284.3,1220.62 279.07,1204.52" fill="#ffffff" stroke="#000000" stroke-width="2.8" stroke-linejoin="miter"/>
<polygon points="326.77,1171.96 340.46,1181.91 335.23,1198.01 318.3,1198.01 313.07,1181.91" fill="#ffffff" stroke="#000000" stroke-width="2.8" stroke-linejoin="miter"/>
<polygon points="360.77,1149.27 374.47,1159.22 369.23,1175.32 352.31,1175.32 347.08,1159.22" fill="#ffffff" stroke="#000000" stroke-width="2.8" stroke-linejoin="miter"/>
<polygon points="394.78,1126.51 408.47,1136.46 403.24,1152.56 386.31,1152.56 381.08,1136.46" fill="#ffffff" stroke="#000000" stroke-width="2.8" stroke-linejoin="miter"/>
<polygon points="428.78,1103.67 442.48,1113.62 437.25,1129.72 420.32,1129.72 415.09,1113.62" fill="#ffffff" stroke="#000000" stroke-width="2.8" stroke-linejoin="miter"/>
<polygon points="462.79,1080.75 476.48,1090.7 471.25,1106.8 454.32,1106.8 449.09,1090.7" fill="#ffffff" stroke="#000000" stroke-width="2.8" stroke-linejoin="miter"/>
<polygon points="496.79,1057.75 510.49,1067.7 505.26,1083.8 488.33,1083.8 483.1,1067.7" fill="#ffffff" stroke="#000000" stroke-width="2.8" stroke-linejoin="miter"/>
<polygon points="530.8,1034.66 544.49,1044.61 539.26,1060.71 522.33,1060.71 517.1,1044.61" fill="#ffffff" stroke="#000000" stroke-width="2.8" stroke-linejoin="miter"/>
<polygon points="564.8,1011.5 578.5,1021.45 573.27,1037.54 556.34,1037.54 551.11,1021.45" fill="#ffffff" stroke="#000000" stroke-width="2.8" stroke-linejoin="miter"/>
<polygon points="598.81,988.24 612.5,998.19 607.27,1014.29 590.34,1014.29 585.11,998.19" fill="#ffffff" stroke="#000000" stroke-width="2.8" stroke-linejoin="miter"/>
<polygon points="632.81,964.9 646.51,974.85 641.28,990.95 624.35,990.95 619.12,974.85" fill="#ffffff" stroke="#000000" stroke-width="2.8" stroke-linejoin="miter"/>
<polygon points="666.82,941.46 680.51,951.41 675.28,967.51 658.35,967.51 653.12,951.41" fill="#ffffff" stroke="#000000" stroke-width="2.8" stroke-linejoin="miter"/>
<polygon points="700.82,917.94 714.52,927.89 709.29,943.99 692.36,943.99 687.13,927.89" fill="#ffffff" stroke="#000000" stroke-width="2.8" stroke-linejoin="miter"/>
<polygon points="734.83,894.32 748.52,904.27 743.29,920.37 726.36,920.37 721.13,904.27" fill="#ffffff" stroke="#000000" stroke-width="2.8" stroke-linejoin="miter"/>
<polygon points="768.83,870.6 782.53,880.55 777.3,896.65 760.37,896.65 755.14,880.55" fill="#ffffff" stroke="#000000" stroke-width="2.8" stroke-linejoin="miter"/>
<polygon points="802.84,846.79 816.53,856.74 811.3,872.84 794.37,872.84 789.14,856.74" fill="#ffffff" stroke="#000000" stroke-width="2.8" stroke-linejoin="miter"/>
<polygon points="836.84,822.88 850.54,832.83 845.31,848.93 828.38,848.93 823.15,832.83" fill="#ffffff" stroke="#000000" stroke-width="2.8" stroke-linejoin="miter"/>
<polygon points="870.85,798.87 884.54,808.82 879.31,824.92 862.38,824.92 857.15,808.82" fill="#ffffff" stroke="#000000" stroke-width="2.8" stroke-linejoin="miter"/>
<polygon points="904.85,774.76 918.55,784.71 913.32,800.81 896.39,800.81 891.16,784.71" fill="#ffffff" stroke="#000000" stroke-width="2.8" stroke-linejoin="miter"/>
<polygon points="938.86,750.55 952.55,760.5 947.32,776.6 930.4,776.6 925.16,760.5" fill="#ffffff" stroke="#000000" stroke-width="2.8" stroke-linejoin="miter"/>
<polygon points="972.86,726.23 986.56,736.18 981.33,752.28 964.4,752.28 959.17,736.18" fill="#ffffff" stroke="#000000" stroke-width="2.8" stroke-linejoin="miter"/>
<polygon points="1006.87,701.8 1020.57,711.75 1015.33,727.85 998.41,727.85 993.17,711.75" fill="#ffffff" stroke="#000000" stroke-width="2.8" stroke-linejoin="miter"/>
<polygon points="1040.88,677.27 1054.57,687.22 1049.34,703.32 1032.41,703.32 1027.18,687.22" fill="#ffffff" stroke="#000000" stroke-width="2.8" stroke-linejoin="miter"/>
<polygon points="1074.88,652.62 1088.58,662.57 1083.34,678.67 1066.42,678.67 1061.18,662.57" fill="#ffffff" stroke="#000000" stroke-width="2.8" stroke-linejoin="miter"/>
<polygon points="1108.89,627.87 1122.58,637.82 1117.35,653.91 1100.42,653.91 1095.19,637.82" fill="#ffffff" stroke="#000000" stroke-width="2.8" stroke-linejoin="miter"/>
<polygon points="1142.89,602.99 1156.59,612.94 1151.35,629.04 1134.43,629.04 1129.2,612.94" fill="#ffffff" stroke="#000000" stroke-width="2.8" stroke-linejoin="miter"/>
<polygon points="1176.9,578.01 1190.59,587.96 1185.36,604.06 1168.43,604.06 1163.2,587.96" fill="#ffffff" stroke="#000000" stroke-width="2.8" stroke-linejoin="miter"/>
<polygon points="1210.9,552.9 1224.6,562.85 1219.37,578.95 1202.44,578.95 1197.21,562.85" fill="#ffffff" stroke="#000000" stroke-width="2.8" stroke-linejoin="miter"/>
<polygon points="1244.91,527.68 1258.6,537.63 1253.37,553.73 1236.44,553.73 1231.21,537.63" fill="#ffffff" stroke="#000000" stroke-width="2.8" stroke-linejoin="miter"/>
<polygon points="1278.91,502.34 1292.61,512.29 1287.38,528.39 1270.45,528.39 1265.22,512.29" fill="#ffffff" stroke="#000000" stroke-width="2.8" stroke-linejoin="miter"/>
<polygon points="1312.92,476.87 1326.61,486.82 1321.38,502.92 1304.45,502.92 1299.22,486.82" fill="#ffffff" stroke="#000000" stroke-width="2.8" stroke-linejoin="miter"/>
<polygon points="1346.92,451.29 1360.62,461.24 1355.39,477.34 1338.46,477.34 1333.23,461.24" fill="#ffffff" stroke="#000000" stroke-width="2.8" stroke-linejoin="miter"/>
<polygon points="1380.93,425.57 1394.62,435.52 1389.39,451.62 1372.46,451.62 1367.23,435.52" fill="#ffffff" stroke="#000000" stroke-width="2.8" stroke-linejoin="miter"/>
<polygon points="1414.93,399.73 1428.63,409.68 1423.4,425.78 1406.47,425.78 1401.24,409.68" fill="#ffffff" stroke="#000000" stroke-width="2.8" stroke-linejoin="miter"/>
<polygon points="1448.94,373.76 1462.63,383.71 1457.4,399.81 1440.47,399.81 1435.24,383.71" fill="#ffffff" stroke="#000000" stroke-width="2.8" stroke-linejoin="miter"/>
<polygon points="1482.94,347.66 1496.64,357.61 1491.41,373.71 1474.48,373.71 1469.25,357.61" fill="#ffffff" stroke="#000000" stroke-width="2.8" stroke-linejoin="miter"/>
<polygon points="1516.95,321.43 1530.64,331.38 1525.41,347.48 1508.48,347.48 1503.25,331.38" fill="#ffffff" stroke="#000000" stroke-width="2.8" stroke-linejoin="miter"/>
<polygon points="1550.95,295.06 1564.65,305.01 1559.42,321.11 1542.49,321.11 1537.26,305.01" fill="#ffffff" stroke="#000000" stroke-width="2.8" stroke-linejoin="miter"/>
<polygon points="1584.96,268.56 1598.65,278.51 1593.42,294.61 1576.49,294.61 1571.26,278.51" fill="#ffffff" stroke="#000000" stroke-width="2.8" stroke-linejoin="miter"/>
<polygon points="1618.96,241.91 1632.66,251.86 1627.43,267.96 1610.5,267.96 1605.27,251.86" fill="#ffffff" stroke="#000000" stroke-width="2.8" stroke-linejoin="miter"/>
<polygon points="1652.97,215.14 1666.66,225.09 1661.43,241.18 1644.5,241.18 1639.27,225.09" fill="#ffffff" stroke="#000000" stroke-width="2.8" stroke-linejoin="miter"/>
<polygon points="1686.97,188.21 1700.67,198.16 1695.44,214.26 1678.51,214.26 1673.28,198.16" fill="#ffffff" stroke="#000000" stroke-width="2.8" stroke-linejoin="miter"/>
<polygon points="1720.98,161.15 1734.67,171.1 1729.44,187.2 1712.52,187.2 1707.28,171.1" fill="#ffffff" stroke="#000000" stroke-width="2.8" stroke-linejoin="miter"/>
</g>
</g>
</g>
<g id="axes" stroke="#000000" stroke-width="5.0" fill="none" stroke-linecap="butt" filter="url(#soft2)">
<rect x="224.75" y="39.9" width="1632.25" height="1314.95" stroke-width="5.4"/>
<path d="M292.76 1354.85v-13.6M292.76 39.9v10.9M360.77 1354.85v-27M360.77 39.9v24.2M428.78 1354.85v-13.6M428.78 39.9v10.9M496.79 1354.85v-27M496.79 39.9v24.2M564.8 1354.85v-13.6M564.8 39.9v10.9M632.81 1354.85v-27M632.81 39.9v24.2M700.82 1354.85v-13.6M700.82 39.9v10.9M768.83 1354.85v-27M768.83 39.9v24.2M836.84 1354.85v-13.6M836.84 39.9v10.9M904.85 1354.85v-27M904.85 39.9v24.2M972.86 1354.85v-13.6M972.86 39.9v10.9M1040.88 1354.85v-27M1040.88 39.9v24.2M1108.89 1354.85v-13.6M1108.89 39.9v10.9M1176.9 1354.85v-27M1176.9 39.9v24.2M1244.91 1354.85v-13.6M1244.91 39.9v10.9M1312.92 1354.85v-27M1312.92 39.9v24.2M1380.93 1354.85v-13.6M1380.93 39.9v10.9M1448.94 1354.85v-27M1448.94 39.9v24.2M1516.95 1354.85v-13.6M1516.95 39.9v10.9M1584.96 1354.85v-27M1584.96 39.9v24.2M1652.97 1354.85v-13.6M1652.97 39.9v10.9M1720.98 1354.85v-27M1720.98 39.9v24.2M1788.99 1354.85v-13.6M1788.99 39.9v10.9M224.75 1272.67h10.9M1857 1272.67h-13.6M224.75 1190.48h24.2M1857 1190.48h-27M224.75 1108.3h10.9M1857 1108.3h-13.6M224.75 1026.11h24.2M1857 1026.11h-27M224.75 943.93h10.9M1857 943.93h-13.6M224.75 861.74h24.2M1857 861.74h-27M224.75 779.56h10.9M1857 779.56h-13.6M224.75 697.38h24.2M1857 697.38h-27M224.75 615.19h10.9M1857 615.19h-13.6M224.75 533.01h24.2M1857 533.01h-27M224.75 450.82h10.9M1857 450.82h-13.6M224.75 368.64h24.2M1857 368.64h-27M224.75 286.45h10.9M1857 286.45h-13.6M224.75 204.27h24.2M1857 204.27h-27M224.75 122.08h10.9M1857 122.08h-13.6"/>
</g>
<g id="labels" filter="url(#soft)">
<g id="xticks" class="tick" text-anchor="middle" letter-spacing="2.11">
<text transform="translate(225.13 1429) scale(0.93 1)">0</text>
<text transform="translate(361.15 1429) scale(0.93 1)">20</text>
<text transform="translate(497.17 1429) scale(0.93 1)">40</text>
<text transform="translate(633.19 1429) scale(0.93 1)">60</text>
<text transform="translate(769.21 1429) scale(0.93 1)">80</text>
<text transform="translate(905.23 1429) scale(0.93 1)">100</text>
<text transform="translate(1041.26 1429) scale(0.93 1)">120</text>
<text transform="translate(1177.28 1429) scale(0.93 1)">140</text>
<text transform="translate(1313.3 1429) scale(0.93 1)">160</text>
<text transform="translate(1449.32 1429) scale(0.93 1)">180</text>
<text transform="translate(1585.34 1429) scale(0.93 1)">200</text>
<text transform="translate(1721.36 1429) scale(0.93 1)">220</text>
<text transform="translate(1857.38 1429) scale(0.93 1)">240</text>
</g>
<g id="yticks" class="tick" text-anchor="end" letter-spacing="2.11">
<text transform="translate(197.26 1375.65) scale(0.93 1)">0</text>
<text transform="translate(197.26 1211.28) scale(0.93 1)">5</text>
<text transform="translate(197.26 1046.91) scale(0.93 1)">10</text>
<text transform="translate(197.26 882.54) scale(0.93 1)">15</text>
<text transform="translate(197.26 718.17) scale(0.93 1)">20</text>
<text transform="translate(197.26 553.81) scale(0.93 1)">25</text>
<text transform="translate(197.26 389.44) scale(0.93 1)">30</text>
<text transform="translate(197.26 225.07) scale(0.93 1)">35</text>
<text transform="translate(197.26 60.7) scale(0.93 1)">40</text>
</g>
<text class="ttl" transform="translate(1039.5 1524) scale(0.968 1)" text-anchor="middle">Time(s)</text>
<text class="ttl" transform="translate(63.3 634.5) rotate(-90) scale(0.972 1)" text-anchor="middle">Pressure(MPa)</text>
<g id="legend">
<line x1="328" y1="148.3" x2="468" y2="148.3" stroke="#ff0000" stroke-width="9.6" stroke-linecap="butt"/>
<rect x="386" y="136" width="24" height="24" fill="#ff0000"/>
<text class="leg" transform="translate(478.2 168) scale(0.98 1)">baseline</text>
<line x1="328" y1="219" x2="365" y2="219" stroke="#00008c" stroke-width="8.6" stroke-linecap="butt"/><line x1="398" y1="219" x2="448" y2="219" stroke="#00008c" stroke-width="8.6" stroke-linecap="butt"/>
<circle cx="397" cy="219" r="14" fill="#0000ff"/>
<text class="leg" transform="translate(477 238.5) scale(0.966 1)">opt2</text>
<line x1="328" y1="290.8" x2="371" y2="290.8" stroke="#ff00ff" stroke-width="11.2" stroke-linecap="butt"/><line x1="398" y1="290.8" x2="454" y2="290.8" stroke="#ff00ff" stroke-width="11.2" stroke-linecap="butt"/>
<polygon points="398,307.8 382.3,282.8 413.7,282.8" fill="#ff00ff" stroke="#ff00ff" stroke-width="5" stroke-linejoin="round"/>
<text class="leg" transform="translate(477 310) scale(0.966 1)">opt4</text>
<polygon points="398,347.6 411.7,357.55 406.46,373.65 389.54,373.65 384.3,357.55" fill="#ffffff" stroke="#000000" stroke-width="2.8" stroke-linejoin="miter"/>
<text class="leg" transform="translate(477 380) scale(0.966 1)">opt6</text>
<line x1="691" y1="148.9" x2="831" y2="148.9" stroke="#00ff00" stroke-width="9.8" stroke-linecap="butt"/>
<polygon points="761,132.1 746.7,154.9 775.3,154.9" fill="#00ff00" stroke="#00ff00" stroke-width="5" stroke-linejoin="round"/>
<text class="leg" transform="translate(839.5 168) scale(0.966 1)">opt1</text>
<polygon points="761,202.66 777.04,218.7 761,234.74 744.96,218.7" fill="#000000" stroke="#000000" stroke-width="3.6" stroke-linejoin="round"/>
<text class="leg" transform="translate(839.5 238.5) scale(0.966 1)">opt3</text>
<line x1="697" y1="290.8" x2="710.5" y2="290.8" stroke="#00ffff" stroke-width="11" stroke-linecap="round"/><line x1="737.5" y1="290.8" x2="792.5" y2="290.8" stroke="#00ffff" stroke-width="11" stroke-linecap="round"/><line x1="819" y1="290.8" x2="825.5" y2="290.8" stroke="#00ffff" stroke-width="11" stroke-linecap="round"/>
<polygon points="761,276.6 764.76,286.32 775.17,286.9 767.09,293.48 769.76,303.55 761,297.9 752.24,303.55 754.91,293.48 746.83,286.9 757.24,286.32" fill="#00ffff" stroke="#00ffff" stroke-width="2" stroke-linejoin="round"/>
<text class="leg" transform="translate(839.5 310) scale(0.966 1)">opt5</text>
</g>
</g>
</g>
<text class="cap" y="1633.7"><tspan x="744.5">(</tspan><tspan x="771.4" font-weight="bold">a</tspan><tspan x="814.4">) </tspan><tspan x="863.8" letter-spacing="1.5">Entirety</tspan></text>
</svg>
</body></html>
